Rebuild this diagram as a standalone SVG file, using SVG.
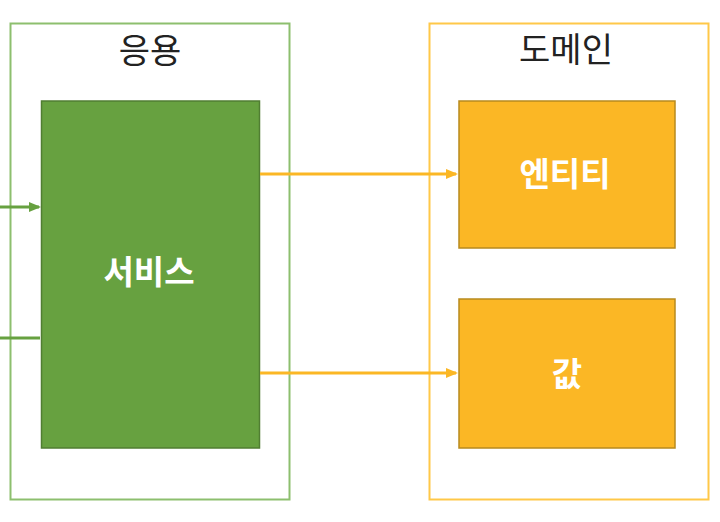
<svg xmlns="http://www.w3.org/2000/svg" width="720" height="522" viewBox="0 0 720 522">
<style>
.t{font-family:"Noto Sans CJK KR","Noto Sans",sans-serif;font-size:33px;text-anchor:middle;dominant-baseline:central}
.title{fill:#222;font-size:34px}
.lbl{fill:#fff;font-weight:bold}
.ga{stroke:#67A140;stroke-width:3;fill:none}
.oa{stroke:#FBB725;stroke-width:3;fill:none}
</style>
<defs>
<marker id="mg" markerWidth="12" markerHeight="12" refX="10" refY="6" orient="auto" markerUnits="userSpaceOnUse"><path d="M0,1 L12,6 L0,11 z" fill="#67A140"/></marker>
<marker id="mo" markerWidth="12" markerHeight="12" refX="10" refY="6" orient="auto" markerUnits="userSpaceOnUse"><path d="M0,1 L12,6 L0,11 z" fill="#FBB725"/></marker>
</defs>
<rect width="720" height="522" fill="#fff"/>
<g id="app">
<rect x="10.5" y="23.5" width="279" height="476" fill="none" stroke="#8DBF6E" stroke-width="2"/>
<text class="t title" x="150" y="48">응용</text>
</g>
<g id="domain">
<rect x="429.5" y="23.5" width="279" height="476" fill="none" stroke="#FFC848" stroke-width="2"/>
<text class="t title" x="566" y="47">도메인</text>
</g>
<g id="service">
<rect x="41.5" y="101" width="218" height="347" fill="#67A140" stroke="#507E32" stroke-width="1.5"/>
<text class="t lbl" x="149" y="270">서비스</text>
</g>
<g id="entity">
<rect x="459" y="101" width="216" height="147" fill="#FBB725" stroke="#B88A1E" stroke-width="1.5"/>
<text class="t lbl" x="565" y="172">엔티티</text>
</g>
<g id="value">
<rect x="459" y="299" width="216" height="149" fill="#FBB725" stroke="#B88A1E" stroke-width="1.5"/>
<text class="t lbl" x="567" y="372">값</text>
</g>
<g id="connectors">
<line class="ga" x1="0" y1="207" x2="39" y2="207" marker-end="url(#mg)"/>
<line class="ga" x1="0" y1="338" x2="40" y2="338"/>
<line class="oa" x1="260" y1="174" x2="456" y2="174" marker-end="url(#mo)"/>
<line class="oa" x1="260" y1="373" x2="456" y2="373" marker-end="url(#mo)"/>
</g>
</svg>
